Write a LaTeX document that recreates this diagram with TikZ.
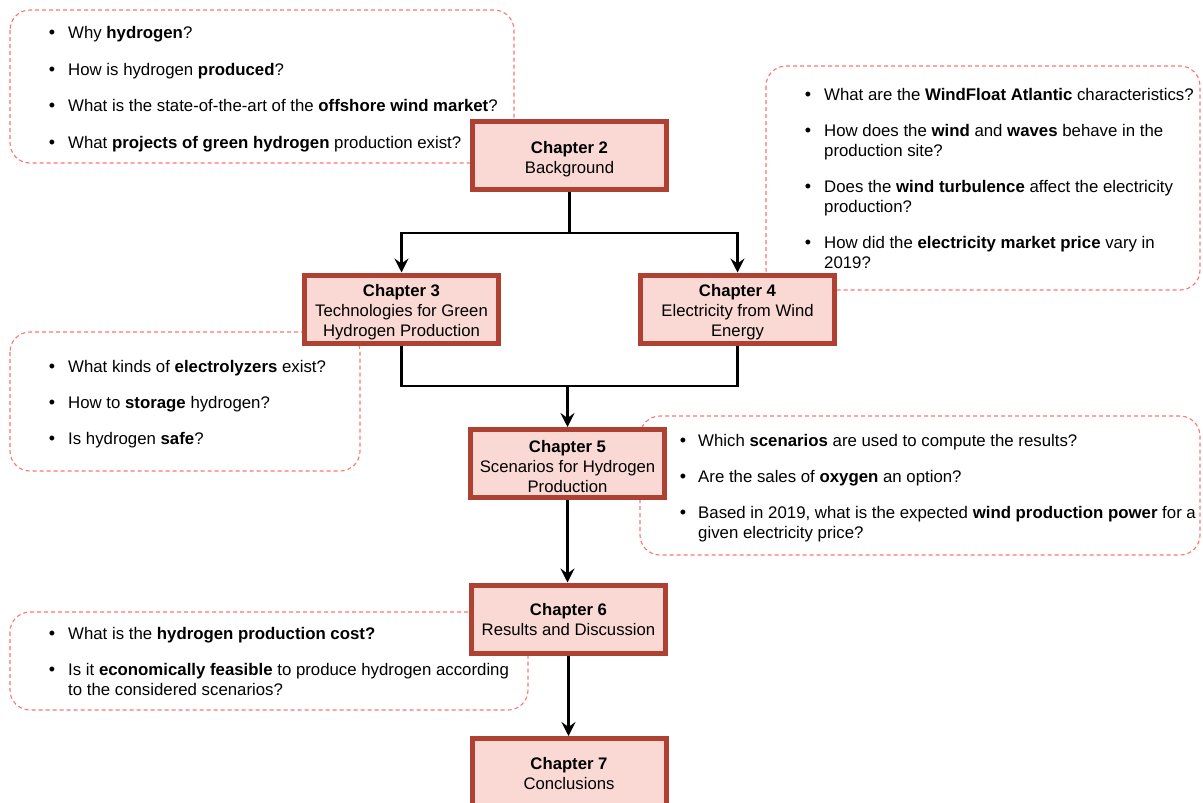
\documentclass[tikz,border=0pt]{standalone}
\usepackage{fontspec}
\setmainfont{Liberation Sans}
\usetikzlibrary{arrows.meta}
\definecolor{chfill}{HTML}{FAD9D5}
\definecolor{chdraw}{HTML}{AE4132}
\definecolor{qdraw}{HTML}{FF7373}
\tikzset{
  chap/.style={draw=chdraw, fill=chfill, line width=5pt, minimum width=194pt, minimum height=68pt, inner sep=0pt},
  chaptxt/.style={align=center, inner sep=0pt, yshift=-3.5pt, font=\fontsize{16.7}{20}\selectfont},
  qbox/.style={draw=qdraw, line width=1.1pt, dash pattern=on 4pt off 3pt, rounded corners=20pt},
  qtxt/.style={anchor=base west, inner sep=0pt, font=\fontsize{16.8}{20}\selectfont},
  qbul/.style={anchor=base, inner sep=0pt, font=\fontsize{18}{20}\selectfont},
  link/.style={line width=2.6pt, draw=black},
  flow/.style={link, -{Stealth[length=14pt, width=14pt, inset=5pt]}}
}
\begin{document}
\begin{tikzpicture}[x=1pt, y=-1pt]
\useasboundingbox (0,0) rectangle (1203,803);
% question boxes
\draw[qbox] (10,10) rectangle (514,163);
\draw[qbox] (766,66) rectangle (1200,290);
\draw[qbox] (10,332) rectangle (360,471);
\draw[qbox] (640,416) rectangle (1200,555);
\draw[qbox] (10,612) rectangle (528,710);
% box A
\node[qbul] (a1b) at (52,38) {•};
\node[qtxt] (a1) at (68,38) {Why \textbf{hydrogen}?};
\node[qbul] (a2b) at (52,75) {•};
\node[qtxt] (a2) at (68,75) {How is hydrogen \textbf{produced}?};
\node[qbul] (a3b) at (52,111) {•};
\node[qtxt] (a3) at (68,111) {What is the state-of-the-art of the \textbf{offshore wind market}?};
\node[qbul] (a4b) at (52,148) {•};
\node[qtxt] (a4) at (68,148) {What \textbf{projects of green hydrogen} production exist?};
% box B
\node[qbul] (b1b) at (808,100) {•};
\node[qtxt] (b1) at (824,100) {What are the \textbf{WindFloat Atlantic} characteristics?};
\node[qbul] (b2b) at (808,136) {•};
\node[qtxt] (b2) at (824,136) {How does the \textbf{wind} and \textbf{waves} behave in the};
\node[qtxt] (b2x) at (824,156) {production site?};
\node[qbul] (b3b) at (808,192) {•};
\node[qtxt] (b3) at (824,192) {Does the \textbf{wind turbulence} affect the electricity};
\node[qtxt] (b3x) at (824,212) {production?};
\node[qbul] (b4b) at (808,248) {•};
\node[qtxt] (b4) at (824,248) {How did the \textbf{electricity market price} vary in};
\node[qtxt] (b4x) at (824,268) {2019?};
% box C
\node[qbul] (c1b) at (52,372) {•};
\node[qtxt] (cq1) at (68,372) {What kinds of \textbf{electrolyzers} exist?};
\node[qbul] (c2b) at (52,408) {•};
\node[qtxt] (cq2) at (68,408) {How to \textbf{storage} hydrogen?};
\node[qbul] (c3b) at (52,444) {•};
\node[qtxt] (cq3) at (68,444) {Is hydrogen \textbf{safe}?};
% box D
\node[qbul] (d1b) at (683,446) {•};
\node[qtxt] (d1) at (698,446) {Which \textbf{scenarios} are used to compute the results?};
\node[qbul] (d2b) at (683,482) {•};
\node[qtxt] (d2) at (698,482) {Are the sales of \textbf{oxygen} an option?};
\node[qbul] (d3b) at (683,518) {•};
\node[qtxt] (d3) at (698,518) {Based in 2019, what is the expected \textbf{wind production power} for a};
\node[qtxt] (d3x) at (698,538) {given electricity price?};
% box E
\node[qbul] (e1b) at (52,639) {•};
\node[qtxt] (e1) at (68,639) {What is the \textbf{hydrogen production cost?}};
\node[qbul] (e2b) at (52,675) {•};
\node[qtxt] (e2) at (68,675) {Is it \textbf{economically feasible} to produce hydrogen according};
\node[qtxt] (e2x) at (68,695) {to the considered scenarios?};
% chapter boxes
\node[chap] (c2) at (569.5,155.5) {};
\node[chaptxt] (c2t) at (c2) {\textbf{Chapter 2}\\Background};
\node[chap] (c3) at (401.5,309) {};
\node[chaptxt] (c3t) at (c3) {\textbf{Chapter 3}\\Technologies for Green\\Hydrogen Production};
\node[chap] (c4) at (737.5,309) {};
\node[chaptxt] (c4t) at (c4) {\textbf{Chapter 4}\\Electricity from Wind\\Energy};
\node[chap] (c5) at (567.5,463.5) {};
\node[chaptxt] (c5t) at (c5) {\textbf{Chapter 5}\\Scenarios for Hydrogen\\Production};
\node[chap] (c6) at (568.5,619) {};
\node[chaptxt, yshift=2.5pt] (c6t) at (c6) {\textbf{Chapter 6}\\Results and Discussion};
\node[chap] (c7) at (569,772.5) {};
\node[chaptxt, yshift=2pt] (c7t) at (c7) {\textbf{Chapter 7}\\Conclusions};
% connectors
\coordinate (j1) at (569,233);
\coordinate (j2) at (567.5,386);
\draw[link] (c2.south) -- (c2.south |- j1);
\draw[flow] (j1) -| (c3.north);
\draw[flow] (j1) -| (c4.north);
\draw[link] (c3.south) |- (j2) -| (c4.south);
\draw[flow] (j2) -- (c5.north);
\draw[flow] (c5.south) -- (c5.south |- c6.north);
\draw[flow] (c6.south) -- (c6.south |- c7.north);
\end{tikzpicture}
\end{document}
